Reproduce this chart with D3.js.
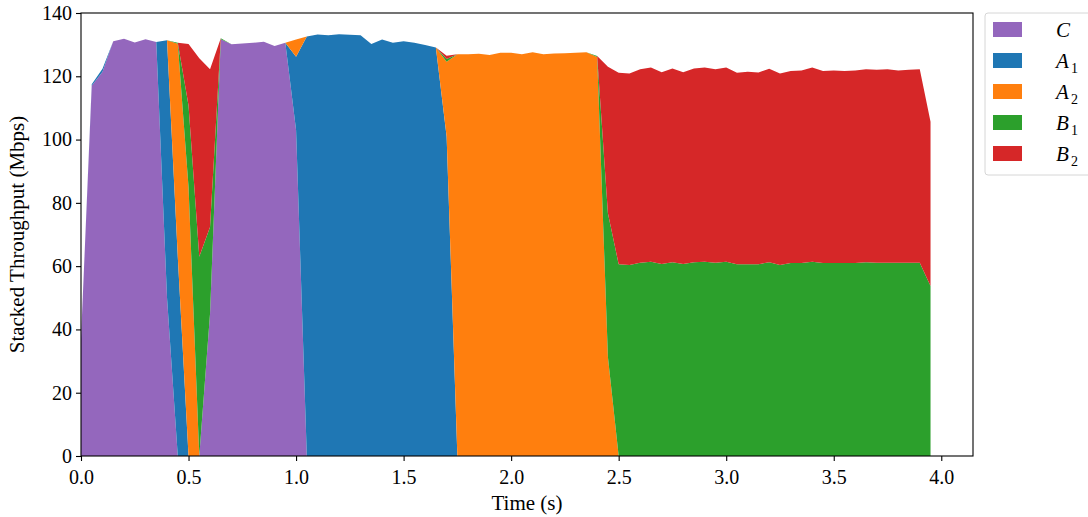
<!DOCTYPE html>
<html>
<head>
<meta charset="utf-8">
<script src="https://cdn.jsdelivr.net/npm/d3@7"></script>
<style>
  body { margin: 0; background: #fff; }
  svg text { font-family: "Liberation Serif", "DejaVu Serif", serif; fill: #000; }
</style>
</head>
<body>
<svg id="chart" width="1088" height="517"></svg>
<script>
// sample times (s)
var times = [0.00, 0.05, 0.10, 0.15, 0.20, 0.25, 0.30, 0.35, 0.40, 0.45,
             0.50, 0.55, 0.60, 0.65, 0.70, 0.75, 0.80, 0.85, 0.90, 0.95,
             1.00, 1.05, 1.10, 1.15, 1.20, 1.25, 1.30, 1.35, 1.40, 1.45,
             1.50, 1.55, 1.60, 1.65, 1.70, 1.75, 1.80, 1.85, 1.90, 1.95,
             2.00, 2.05, 2.10, 2.15, 2.20, 2.25, 2.30, 2.35, 2.40, 2.45,
             2.50, 2.55, 2.60, 2.65, 2.70, 2.75, 2.80, 2.85, 2.90, 2.95,
             3.00, 3.05, 3.10, 3.15, 3.20, 3.25, 3.30, 3.35, 3.40, 3.45,
             3.50, 3.55, 3.60, 3.65, 3.70, 3.75, 3.80, 3.85, 3.90, 3.95];

// throughput per flow (Mbps)
var flowC  = [37, 117, 121.4, 131.1, 131.9, 130.7, 131.7, 130.8, 50, 0,
              0, 0, 45, 131.7, 130.1, 130.4, 130.6, 130.9, 129.6, 130.6,
              103, 0, 0, 0, 0, 0, 0, 0, 0, 0,
              0, 0, 0, 0, 0, 0, 0, 0, 0, 0,
              0, 0, 0, 0, 0, 0, 0, 0, 0, 0,
              0, 0, 0, 0, 0, 0, 0, 0, 0, 0,
              0, 0, 0, 0, 0, 0, 0, 0, 0, 0,
              0, 0, 0, 0, 0, 0, 0, 0, 0, 0];
var flowA1 = [0, 0.5, 1.0, 0, 0, 0, 0, 0, 81.4, 63,
              0, 0, 0, 0, 0, 0, 0, 0, 0, 0,
              23.2, 132.6, 133.2, 133.0, 133.3, 133.1, 133.0, 130.2, 131.6, 130.6,
              131.1, 130.6, 129.9, 129.1, 101, 0, 0, 0, 0, 0,
              0, 0, 0, 0, 0, 0, 0, 0, 0, 0,
              0, 0, 0, 0, 0, 0, 0, 0, 0, 0,
              0, 0, 0, 0, 0, 0, 0, 0, 0, 0,
              0, 0, 0, 0, 0, 0, 0, 0, 0, 0];
var flowA2 = [0, 0, 0, 0, 0, 0, 0, 0, 0, 67.3,
              85, 0, 0, 0, 0, 0, 0, 0, 0, 0,
              5.4, 0, 0, 0, 0, 0, 0, 0, 0, 0,
              0, 0, 0, 0, 23.6, 127.0, 127.0, 127.1, 126.7, 127.4,
              127.4, 127.0, 127.6, 127.0, 127.2, 127.3, 127.4, 127.6, 126.1, 31.3,
              0, 0, 0, 0, 0, 0, 0, 0, 0, 0,
              0, 0, 0, 0, 0, 0, 0, 0, 0, 0,
              0, 0, 0, 0, 0, 0, 0, 0, 0, 0];
var flowB1 = [0, 0, 0, 0, 0, 0, 0, 0, 0, 0.3,
              25.8, 63, 27.4, 0.3, 0, 0, 0, 0, 0, 0,
              0, 0, 0, 0, 0, 0, 0, 0, 0, 0,
              0, 0, 0, 0, 0.9, 0, 0, 0, 0, 0,
              0, 0, 0, 0, 0, 0, 0, 0, 0.3, 45.4,
              60.6, 60.4, 61.1, 61.4, 60.7, 61.2, 60.7, 61.2, 61.4, 61.1,
              61.4, 60.6, 60.6, 60.6, 61.2, 60.4, 61.0, 61.0, 61.4, 61.0,
              61.0, 61.0, 61.0, 61.2, 61.1, 61.1, 61.1, 61.1, 61.1, 53.7];
var flowB2 = [0, 0, 0, 0, 0, 0, 0, 0, 0, 0,
              19.4, 62.7, 49.8, 0, 0, 0, 0, 0, 0, 0,
              0, 0, 0, 0, 0, 0, 0, 0, 0, 0,
              0, 0, 0, 0, 1.0, 0, 0, 0, 0, 0,
              0, 0, 0, 0, 0, 0, 0, 0, 0, 46.3,
              60.5, 60.5, 61.1, 61.4, 60.6, 61.3, 60.6, 61.3, 61.4, 61.1,
              61.4, 60.5, 60.8, 60.6, 61.2, 60.5, 60.7, 60.8, 61.4, 60.7,
              60.8, 60.7, 60.8, 61.0, 61.0, 61.1, 60.7, 61.0, 61.1, 51.9];

var keys = ['C', 'A1', 'A2', 'B1', 'B2'];
var colors = ['#9467bd', '#1f77b4', '#ff7f0e', '#2ca02c', '#d62728'];
var legendLetters = ['C', 'A', 'A', 'B', 'B'];
var legendSubs = ['', '1', '2', '1', '2'];
var xTicks = [0, 0.5, 1.0, 1.5, 2.0, 2.5, 3.0, 3.5, 4.0];
var yTicks = [0, 20, 40, 60, 80, 100, 120, 140];

var margin = {top: 13, left: 81, width: 892, height: 443};

var rows = times.map(function(t, i){
	return {t: t, C: flowC[i], A1: flowA1[i], A2: flowA2[i], B1: flowB1[i], B2: flowB2[i]};
});

var svg = d3.select('#chart');
var g = svg.append('g').attr('transform', 'translate(' + margin.left + ',' + margin.top + ')');

var x = d3.scaleLinear().domain([0, 4.1475]).range([0, margin.width]);
var y = d3.scaleLinear().domain([0, 140]).range([margin.height, 0]);

var series = d3.stack().keys(keys)(rows);

var area = d3.area()
	.x(function(d){ return x(d.data.t); })
	.y0(function(d){ return y(d[0]); })
	.y1(function(d){ return y(d[1]); });

g.selectAll('path.layer')
	.data(series)
	.enter().append('path')
	.attr('class', 'layer')
	.attr('d', area)
	.attr('fill', function(d, i){ return colors[i]; });

// axes
var xAxis = g.append('g')
	.attr('transform', 'translate(0,' + margin.height + ')')
	.call(d3.axisBottom(x).tickValues(xTicks).tickFormat(d3.format('.1f')).tickSize(5).tickPadding(4));
var yAxis = g.append('g')
	.call(d3.axisLeft(y).tickValues(yTicks).tickFormat(d3.format('d')).tickSize(5).tickPadding(4));

[xAxis, yAxis].forEach(function(ax){
	ax.select('.domain').remove();
	ax.selectAll('line').attr('stroke', '#000').attr('stroke-width', 1.1);
	ax.selectAll('text').style('font-size', '20px').attr('fill', '#000');
});
xAxis.selectAll('text').attr('dy', '0.95em');

// frame
g.append('rect')
	.attr('x', 0).attr('y', 0)
	.attr('width', margin.width).attr('height', margin.height)
	.attr('fill', 'none')
	.attr('stroke', '#000')
	.attr('stroke-width', 1.1);

// labels
svg.append('text')
	.attr('x', margin.left + margin.width / 2)
	.attr('y', 510)
	.attr('text-anchor', 'middle')
	.style('font-size', '21px')
	.text('Time (s)');

svg.append('text')
	.attr('transform', 'translate(24,' + (margin.top + margin.height / 2) + ') rotate(-90)')
	.attr('text-anchor', 'middle')
	.style('font-size', '21px')
	.text('Stacked Throughput (Mbps)');

// legend
var legend = svg.append('g').attr('transform', 'translate(985,13)');
legend.append('rect')
	.attr('x', 0).attr('y', 0)
	.attr('width', 120).attr('height', 162)
	.attr('rx', 3)
	.attr('fill', '#fff')
	.attr('stroke', '#d6d6d6')
	.attr('stroke-width', 1);

var item = legend.selectAll('g.item')
	.data(legendLetters)
	.enter().append('g')
	.attr('class', 'item')
	.attr('transform', function(d, i){ return 'translate(0,' + (17 + i * 31) + ')'; });

item.append('rect')
	.attr('x', 8).attr('y', -8)
	.attr('width', 29).attr('height', 15)
	.attr('fill', function(d, i){ return colors[i]; });

item.append('text')
	.attr('x', 71)
	.attr('y', 7)
	.attr('text-anchor', 'start')
	.style('font-size', '21px')
	.style('font-style', 'italic')
	.text(function(d){ return d; });

item.append('text')
	.attr('x', 86)
	.attr('y', 12)
	.attr('text-anchor', 'start')
	.style('font-size', '14px')
	.text(function(d, i){ return legendSubs[i]; });
</script>
</body>
</html>
